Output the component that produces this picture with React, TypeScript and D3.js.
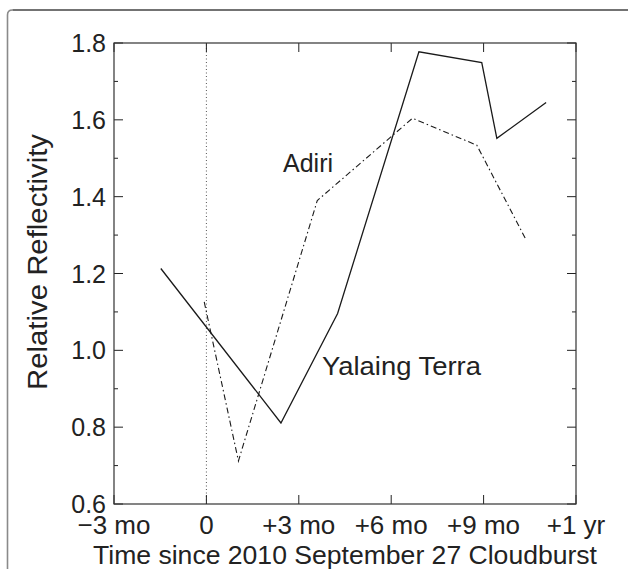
import React from "react";
import * as d3 from "d3";

// months since the cloudburst (x) and relative reflectivity (y)
const terraMonths = [-1.48, 2.42, 4.26, 6.9, 8.94, 9.43, 11.03];
const terraValues = [1.213, 0.811, 1.096, 1.777, 1.749, 1.552, 1.645];

const adiriMonths = [-0.07, 1.04, 3.6, 6.69, 8.78, 10.37];
const adiriValues = [1.126, 0.712, 1.39, 1.604, 1.534, 1.289];

const xTicks = [-3, 0, 3, 6, 9, 12];
const xTickLabels = ["\u22123 mo", "0", "+3 mo", "+6 mo", "+9 mo", "+1 yr"];
const yMajor = [0.6, 0.8, 1.0, 1.2, 1.4, 1.6, 1.8];
const yMinor = [0.7, 0.9, 1.1, 1.3, 1.5, 1.7];

const W = 628;
const H = 569;
const left = 114;
const right = 576;
const top = 43;
const bottom = 504;
const font = "'Liberation Sans', Arial, Helvetica, sans-serif";

const App = () => {
  const x = d3.scaleLinear().domain([-3, 12]).range([left, right]);
  const y = d3.scaleLinear().domain([0.6, 1.8]).range([bottom, top]);

  const line = d3
    .line<[number, number]>()
    .x((d) => x(d[0]))
    .y((d) => y(d[1]));

  const terra = terraMonths.map((m, i) => [m, terraValues[i]] as [number, number]);
  const adiri = adiriMonths.map((m, i) => [m, adiriValues[i]] as [number, number]);

  const tickStroke = "#222";

  return (
    <svg
      width={W}
      height={H}
      style={{ position: "absolute", left: 0, top: 0, background: "#fff" }}
      fontFamily={font}
    >
      {/* panel frame */}
      <path d={`M7.5,${H} V15 Q7.5,10 12.5,10`} fill="none" stroke="#8a8a8a" strokeWidth={1.6} />
      <path d={`M12.5,10 H${W}`} fill="none" stroke="#444" strokeWidth={1.3} />

      {/* zero line */}
      <line
        x1={x(0)}
        x2={x(0)}
        y1={bottom}
        y2={top}
        stroke="#555"
        strokeWidth={1}
        strokeDasharray="1,2.5"
      />

      {/* ticks */}
      {xTicks.map((t) => (
        <g key={"xt" + t}>
          <line x1={x(t)} x2={x(t)} y1={bottom} y2={bottom - 9} stroke={tickStroke} />
          <line x1={x(t)} x2={x(t)} y1={top} y2={top + 9} stroke={tickStroke} />
        </g>
      ))}
      {yMajor.map((t) => (
        <g key={"ym" + t}>
          <line x1={left} x2={left + 9} y1={y(t)} y2={y(t)} stroke={tickStroke} />
          <line x1={right} x2={right - 9} y1={y(t)} y2={y(t)} stroke={tickStroke} />
        </g>
      ))}
      {yMinor.map((t) => (
        <g key={"yn" + t}>
          <line x1={left} x2={left + 4} y1={y(t)} y2={y(t)} stroke={tickStroke} />
          <line x1={right} x2={right - 4} y1={y(t)} y2={y(t)} stroke={tickStroke} />
        </g>
      ))}

      {/* axes box */}
      <rect
        x={left}
        y={top}
        width={right - left}
        height={bottom - top}
        fill="none"
        stroke="#333"
        strokeWidth={1.2}
      />

      {/* series */}
      <path d={line(terra) || ""} fill="none" stroke="#1a1a1a" strokeWidth={1.3} />
      <path
        d={line(adiri) || ""}
        fill="none"
        stroke="#1a1a1a"
        strokeWidth={1.1}
        strokeDasharray="6,3,1.5,3"
      />

      {/* tick labels */}
      {xTicks.map((t, i) => (
        <text key={"xl" + t} x={x(t)} y={534} fontSize={26} textAnchor="middle" fill="#222">
          {xTickLabels[i]}
        </text>
      ))}
      {yMajor.map((t) => (
        <text
          key={"yl" + t}
          x={left - 8}
          y={y(t)}
          dy="0.36em"
          fontSize={25}
          textAnchor="end"
          fill="#222"
        >
          {t.toFixed(1)}
        </text>
      ))}

      {/* axis titles */}
      <text
        x={(left + right) / 2}
        y={564}
        fontSize={26}
        textAnchor="middle"
        fill="#222"
        textLength={504}
        lengthAdjust="spacingAndGlyphs"
      >
        Time since 2010 September 27 Cloudburst
      </text>
      <text
        transform={`translate(47,262) rotate(-90)`}
        fontSize={27}
        textAnchor="middle"
        fill="#222"
        textLength={256}
        lengthAdjust="spacingAndGlyphs"
      >
        Relative Reflectivity
      </text>

      {/* series labels */}
      <text x={283} y={172} fontSize={25} fill="#222">
        Adiri
      </text>
      <text
        x={322}
        y={375}
        fontSize={26}
        fill="#222"
        textLength={159}
        lengthAdjust="spacingAndGlyphs"
      >
        Yalaing Terra
      </text>
    </svg>
  );
};

export default App;
